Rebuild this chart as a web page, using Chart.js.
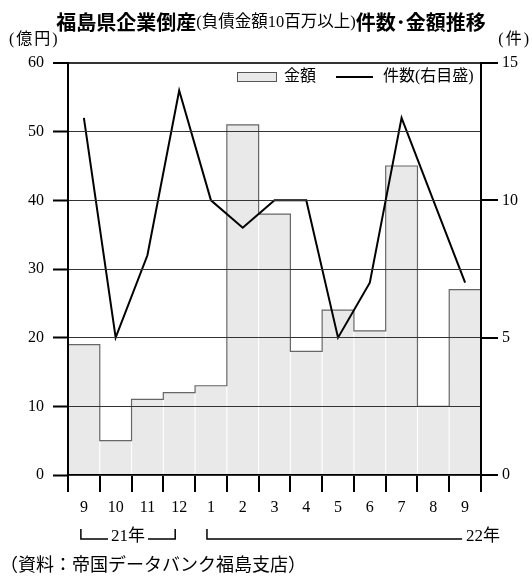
<!DOCTYPE html>
<html><head><meta charset="utf-8">
<script src="https://cdn.jsdelivr.net/npm/chart.js@4.4.0/dist/chart.umd.min.js"></script>
<style>html,body{margin:0;padding:0;background:#fff;}#wrap{width:532px;height:578px;}</style>
</head><body><div id="wrap"><canvas id="c" width="532" height="578"></canvas></div>
<script>
const months = ['9','10','11','12','1','2','3','4','5','6','7','8','9'];
const amounts = [19,5,11,12,13,51,38,18,24,21,45,10,27];
const counts = [13,5,8,14,10,9,10,10,5,7,13,10,7];
const amountTicks = [0,10,20,30,40,50,60];
const countTicks = [0,5,10,15];
const amountLabel = '金額';
const countLabel = '件数(右目盛)';
const titleParts = ['福島県企業倒産','(負債金額10百万以上)','件数･金額推移'];
const leftUnit = '(億円)';
const rightUnit = '(件)';
const year21 = '21年';
const year22 = '22年';
const sourceText = '（資料：帝国データバンク福島支店）';

const SERIF = '"Liberation Serif","Noto Sans CJK JP"';
const GOTHIC = '"Noto Sans CJK JP"';

const outlinePlugin = {
  id: 'outline',
  afterDatasetDraw(chart, args) {
    if (args.index !== 0) return;
    const xs = chart.scales.x;
    const half = (xs.getPixelForValue(1) - xs.getPixelForValue(0)) / 2;
    const ctx = chart.ctx;
    ctx.save();
    ctx.beginPath();
    args.meta.data.forEach((bar, i) => {
      const l = bar.x - half, r = bar.x + half;
      if (i === 0) ctx.moveTo(l, bar.y); else ctx.lineTo(l, bar.y);
      ctx.lineTo(r, bar.y);
    });
    ctx.strokeStyle = '#666';
    ctx.lineWidth = 1.2;
    ctx.stroke();
    ctx.restore();
  }
};

const textPlugin = {
  id: 'texts',
  afterDraw(chart) {
    const ctx = chart.ctx;
    const xs = chart.scales.x;
    ctx.save();
    ctx.fillStyle = '#000';
    ctx.textBaseline = 'middle';
    // title
    const fonts = ['bold 20px ' + GOTHIC, '16.5px ' + SERIF, 'bold 20px ' + GOTHIC];
    let widths = titleParts.map((t, i) => { ctx.font = fonts[i]; return ctx.measureText(t).width; });
    let total = widths.reduce((a, b) => a + b, 0);
    let x = 271 - total / 2;
    titleParts.forEach((t, i) => {
      ctx.font = fonts[i];
      ctx.textAlign = 'left';
      ctx.fillText(t, x, i === 1 ? 23 : 22);
      x += widths[i];
    });
    // units
    ctx.font = '16px ' + SERIF;
    try { ctx.letterSpacing = '2px'; } catch (e) {}
    ctx.textAlign = 'left';
    ctx.fillText(leftUnit, 9, 40);
    ctx.textAlign = 'right';
    ctx.fillText(rightUnit, 531, 40);
    try { ctx.letterSpacing = '0px'; } catch (e) {}
    // legend
    const ds = chart.data.datasets;
    ctx.fillStyle = '#e9e9e9';
    ctx.fillRect(237, 72, 39, 9);
    ctx.strokeStyle = '#555';
    ctx.lineWidth = 1;
    ctx.strokeRect(237.5, 72.5, 39, 9);
    ctx.fillStyle = '#000';
    ctx.textAlign = 'left';
    ctx.font = '16px ' + SERIF;
    ctx.fillText(ds[0].label, 284, 77);
    ctx.beginPath();
    ctx.moveTo(336, 77); ctx.lineTo(373, 77);
    ctx.strokeStyle = '#000'; ctx.lineWidth = 2; ctx.stroke();
    ctx.fillText(ds[1].label, 383, 77);
    // year brackets
    ctx.font = '17px ' + SERIF;
    ctx.lineWidth = 1.5;
    const top = 529, bot = 539;
    const a = xs.getPixelForValue(0) - 3, b = xs.getPixelForValue(3) - 4;
    const w21 = ctx.measureText(year21).width;
    const mid = (a + b) / 2;
    ctx.beginPath();
    ctx.moveTo(a, top); ctx.lineTo(a, bot); ctx.lineTo(mid - w21 / 2 - 3, bot);
    ctx.moveTo(mid + w21 / 2 + 3, bot); ctx.lineTo(b, bot); ctx.lineTo(b, top);
    const c = xs.getPixelForValue(4) - 4, d = xs.getPixelForValue(12) - 3;
    ctx.moveTo(c, top); ctx.lineTo(c, bot); ctx.lineTo(d, bot);
    ctx.stroke();
    ctx.textAlign = 'center';
    ctx.fillText(year21, mid, 537);
    ctx.textAlign = 'left';
    ctx.fillText(year22, d + 4, 537);
    // source
    ctx.font = '18px ' + SERIF;
    ctx.fillText(sourceText, 0, 566);
    ctx.restore();
  }
};

new Chart(document.getElementById('c'), {
  data: {
    labels: months,
    datasets: [
      { type: 'bar', label: amountLabel, data: amounts, yAxisID: 'y', order: 2,
        backgroundColor: '#e9e9e9', borderWidth: 0, barPercentage: 0.965, categoryPercentage: 1 },
      { type: 'line', label: countLabel, data: counts, yAxisID: 'y1', order: 1,
        borderColor: '#000', borderWidth: 2, pointRadius: 0, tension: 0, fill: false }
    ]
  },
  options: {
    responsive: false,
    animation: false,
    layout: { padding: { top: 63, left: 0, right: 0, bottom: 0 } },
    plugins: { legend: { display: false }, tooltip: { enabled: false }, title: { display: false } },
    scales: {
      x: {
        offset: true,
        grid: { offset: true, drawOnChartArea: false, drawTicks: true, tickLength: 17, color: '#000', lineWidth: 2, z: 1 },
        border: { display: true, color: '#000', width: 2, z: 1 },
        ticks: { color: '#000', font: { family: SERIF, size: 16 }, padding: 6, maxRotation: 0, autoSkip: false },
        afterFit: s => { s.height = 103; }
      },
      y: {
        position: 'left', min: 0, max: 60,
        afterBuildTicks: s => { s.ticks = amountTicks.map(v => ({ value: v })); },
        grid: { color: '#333', lineWidth: c => (c.tick && c.tick.value === 60) ? 2 : 1, tickLength: 15, tickColor: '#000', tickWidth: 2, z: 1 },
        border: { display: true, color: '#000', width: 2, z: 1 },
        ticks: { color: '#000', font: { family: SERIF, size: 16 }, padding: 9 },
        afterFit: s => { s.width = 68; }
      },
      y1: {
        position: 'right', min: 0, max: 15,
        afterBuildTicks: s => { s.ticks = countTicks.map(v => ({ value: v })); },
        grid: { drawOnChartArea: false, tickLength: 17, color: '#000', lineWidth: 2, z: 1 },
        border: { display: true, color: '#000', width: 2, z: 1 },
        ticks: { color: '#000', font: { family: SERIF, size: 16 }, padding: 4 },
        afterFit: s => { s.width = 51; }
      }
    }
  },
  plugins: [outlinePlugin, textPlugin]
});
</script></body></html>
